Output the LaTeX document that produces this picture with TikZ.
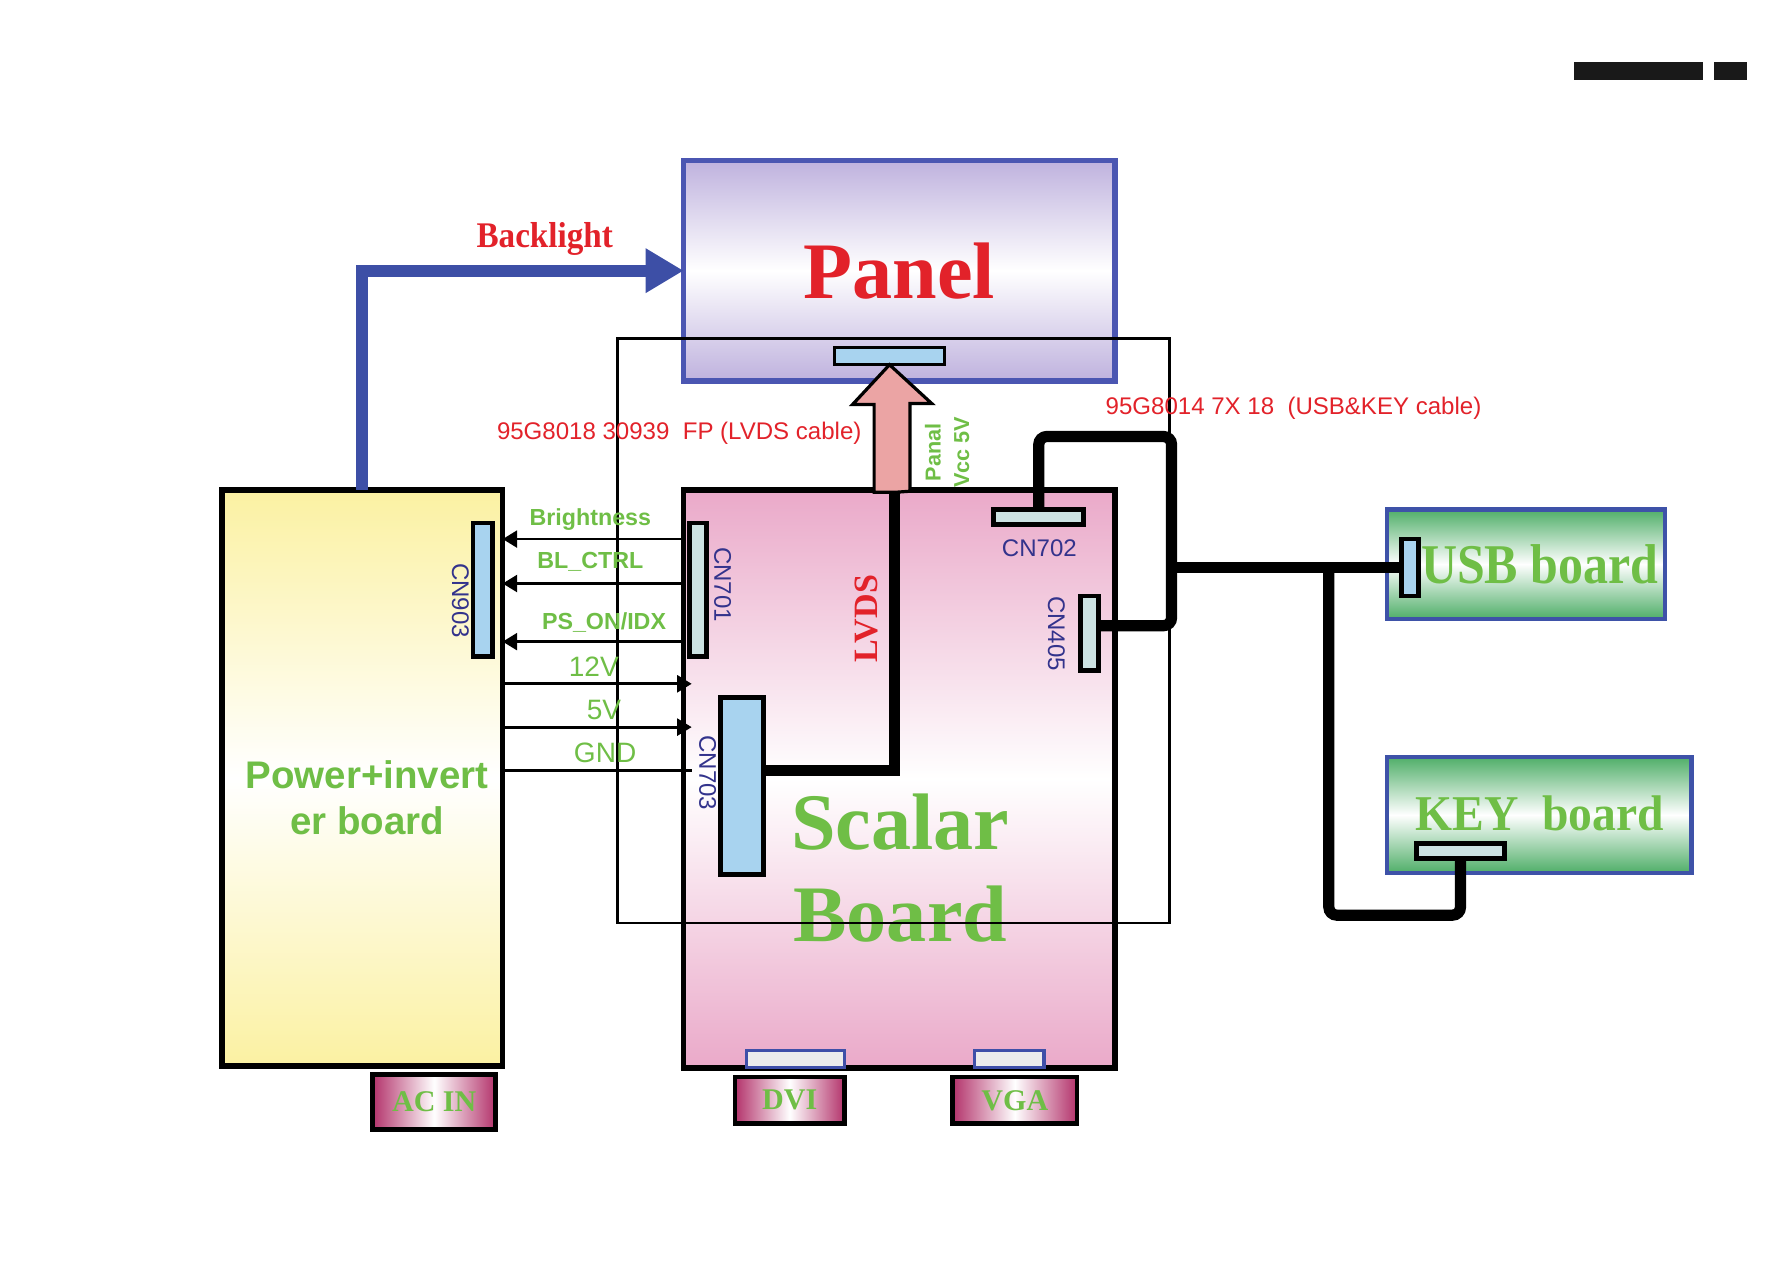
\documentclass[tikz,border=0pt]{standalone}
\usepackage{fontspec}
\setmainfont{Liberation Sans}
\newfontfamily\brdfont{Liberation Serif}
\usetikzlibrary{arrows.meta, positioning, calc}

\definecolor{panelblue}{HTML}{4B56B2}
\definecolor{panellav}{HTML}{BFB2DE}
\definecolor{bluearr}{HTML}{3D4FA6}
\definecolor{txtred}{HTML}{E2222A}
\definecolor{txtgreen}{HTML}{6FBE46}
\definecolor{cnlabel}{HTML}{33338C}
\definecolor{pwryellow}{HTML}{FBF1A2}
\definecolor{scpink}{HTML}{EAA9C9}
\definecolor{brdgreen}{HTML}{4FAE68}
\definecolor{brdblue}{HTML}{3E52A8}
\definecolor{jackmag}{HTML}{B3336B}
\definecolor{cnblue}{HTML}{A8D3EF}
\definecolor{cnpale}{HTML}{CCE2E2}
\definecolor{lvdspink}{HTML}{EBA4A4}
\definecolor{sockblue}{HTML}{3F4FA8}

\tikzset{
  board/.style={draw=black, line width=1.4pt, inner sep=0pt, outer sep=0pt},
  conn/.style={draw=black, line width=1.2pt, fill=cnblue, inner sep=0pt, outer sep=0pt},
  jack/.style={board, line width=1.2pt, left color=jackmag, right color=jackmag, middle color=white,
    text=txtgreen, font=\brdfont\bfseries\fontsize{7.5}{8}\selectfont},
  sock/.style={draw=sockblue, line width=0.8pt, fill=gray!15, inner sep=0pt, outer sep=0pt},
  cable/.style={line width=2.8pt, rounded corners=2pt},
  sig/.style={line width=0.7pt},
  sigtip/.style={-{Triangle[length=3.6pt,width=4.2pt]}},
  sigtxt/.style={text=txtgreen, font=\bfseries\fontsize{5.8}{6}\selectfont},
  volttxt/.style={text=txtgreen, font=\fontsize{7}{7}\selectfont},
  cntxt/.style={text=cnlabel, font=\fontsize{6}{6}\selectfont},
  cabletxt/.style={text=txtred, font=\fontsize{6}{6}\selectfont},
}

\begin{document}
\begin{tikzpicture}[x=0.01cm, y=-0.01cm]
  \useasboundingbox (0,0) rectangle (1568,1108);

  % page marks
  \fill[black!90] (1381,54) rectangle (1494,70);
  \fill[black!90] (1504,54) rectangle (1533,70);

  % panel
  \node[board, draw=panelblue, minimum width=3.78cm, minimum height=1.93cm,
    top color=panellav, bottom color=panellav, middle color=white,
    text=txtred, font=\brdfont\bfseries\fontsize{20}{20}\selectfont] (panel) at (789,237.5) {Panel};
  \node[conn, line width=0.8pt, minimum width=0.97cm, minimum height=0.15cm] (panelcn) at (780.5,312.5) {};

  % power board
  \node[board, minimum width=2.46cm, minimum height=5.05cm,
    top color=pwryellow, bottom color=pwryellow, middle color=white] (pwr) at (318,682.5) {};
  \node[text=txtgreen, align=center, font=\bfseries\fontsize{9.6}{11.4}\selectfont] (pwrtxt) at (322,700)
    {Power+invert\\er board};
  \node[conn, minimum width=0.17cm, minimum height=1.17cm] (cn903) at (423.5,517.5) {};
  \node[cntxt, rotate=-90] at (404,527) {CN903};

  % scalar board
  \node[board, minimum width=3.78cm, minimum height=5.07cm,
    top color=scpink, bottom color=scpink, middle color=white] (scalar) at (789,683.5) {};
  \node[text=txtgreen, align=center, font=\brdfont\bfseries\fontsize{20}{23}\selectfont] (sctxt) at (790,762)
    {Scalar\\Board};
  \node[conn, fill=cnpale, minimum width=0.15cm, minimum height=1.17cm] (cn701) at (612.5,517.5) {};
  \node[cntxt, rotate=-90] at (634,513) {CN701};
  \node[conn, minimum width=0.38cm, minimum height=1.55cm] (cn703) at (651,689.5) {};
  \node[cntxt, rotate=-90] at (621,678) {CN703};
  \node[conn, fill=cnpale, minimum width=0.79cm, minimum height=0.13cm] (cn702) at (911.5,453.5) {};
  \node[cntxt] at (912,481) {CN702};
  \node[conn, fill=cnpale, minimum width=0.16cm, minimum height=0.65cm] (cn405) at (956,555.5) {};
  \node[cntxt, rotate=-90] at (927,556) {CN405};
  \node[sock, minimum width=0.86cm, minimum height=0.15cm] (dvisock) at (698,929.5) {};
  \node[sock, minimum width=0.61cm, minimum height=0.15cm] (vgasock) at (885.5,929.5) {};

  % outer frame
  \draw[line width=0.6pt] (542,297) rectangle (1026,810);

  % jacks
  \node[jack, minimum width=1.08cm, minimum height=0.48cm] (acin) at (381,967) {AC IN};
  \node[jack, minimum width=0.96cm, minimum height=0.41cm] (dvi) at (693,965.5) {DVI};
  \node[jack, minimum width=1.09cm, minimum height=0.41cm] (vga) at (890.5,965.5) {VGA};

  % usb and key boards
  \node[board, draw=brdblue, line width=1.1pt, minimum width=2.44cm, minimum height=0.96cm,
    top color=brdgreen, bottom color=brdgreen, middle color=white] (usb) at (1339,495) {};
  \node[text=txtgreen, font=\brdfont\bfseries\fontsize{14}{14}\selectfont] at (1351,495) {\scalebox{0.89}[1]{USB board}};
  \node[conn, minimum width=0.15cm, minimum height=0.5cm] (usbcn) at (1237.5,498) {};
  \node[board, draw=brdblue, line width=1.1pt, minimum width=2.67cm, minimum height=1.02cm,
    top color=brdgreen, bottom color=brdgreen, middle color=white] (key) at (1350.5,715) {};
  \node[text=txtgreen, font=\brdfont\bfseries\fontsize{12.5}{12.5}\selectfont] at (1351,714) {\scalebox{0.95}[1]{KEY\ \ board}};
  \node[conn, fill=cnpale, minimum width=0.77cm, minimum height=0.13cm] (keycn) at (1281.5,746.5) {};

  % backlight
  \draw[bluearr, line width=3pt, -{Triangle[length=9.5pt,width=10.5pt]}] (pwr.north) |- (panel.west);
  \node[text=txtred, font=\brdfont\bfseries\fontsize{9}{9}\selectfont] at (478,210) {\scalebox{0.92}[1]{Backlight}};

  % lvds
  \coordinate (lvdsbase) at (785,432);
  \draw[line width=0.8pt, fill=lvdspink] (lvdsbase) -- ++(-18,0) -- ++(0,-77) -- ++(-19,0)
    -- (panelcn.south) -- ++(37,34) -- ++(-19,0) -- ++(0,77) -- cycle;
  \draw[cable, rounded corners=0pt] (cn703.east |- 0,676) -| (lvdsbase);
  \node[text=txtred, rotate=90, font=\brdfont\bfseries\fontsize{8.5}{8.5}\selectfont] at (760,543) {LVDS};
  \node[cabletxt] at (596,380) {95G8018 30939\ \ FP (LVDS cable)};
  \node[text=txtgreen, rotate=90, align=center, font=\bfseries\fontsize{5.4}{7.1}\selectfont] at (831,397)
    {Panal\\Vcc 5V};

  % signals between boards
  \draw[sig, sigtip] (scalar.west |- 0,473) -- (pwr.east |- 0,473);
  \draw[sig, sigtip] (scalar.west |- 0,512) -- (pwr.east |- 0,512);
  \draw[sig, sigtip] (scalar.west |- 0,563) -- (pwr.east |- 0,563);
  \draw[sig, sigtip] (pwr.east |- 0,600) -- ([xshift=0.07cm]scalar.west |- 0,600);
  \draw[sig, sigtip] (pwr.east |- 0,638) -- ([xshift=0.07cm]scalar.west |- 0,638);
  \draw[sig, line width=0.9pt] (pwr.east |- 0,676) -- ([xshift=0.07cm]scalar.west |- 0,676);
  \node[sigtxt] at (518,456) {Brightness};
  \node[sigtxt] at (518,493) {BL\_CTRL};
  \node[sigtxt] at (530,546) {PS\_ON/IDX};
  \node[volttxt] at (521,585) {12V};
  \node[volttxt] at (530,623) {5V};
  \node[volttxt] at (531,661) {GND};

  % usb & key cable
  \coordinate (cablejn) at (1028,498);
  \coordinate (keyjn) at (1166,498);
  \draw[cable] (cn702.north) -- ++(0,-64) -| (cablejn) |- ([yshift=0.065cm]cn405.east);
  \draw[cable] (cablejn) -- (usbcn.west);
  \draw[cable] (keyjn) |- ($(keycn.south)+(0,50)$) -- (keycn.south);
  \node[cabletxt] at (1135,358) {95G8014 7X 18\ \ (USB\&KEY cable)};
\end{tikzpicture}
\end{document}
